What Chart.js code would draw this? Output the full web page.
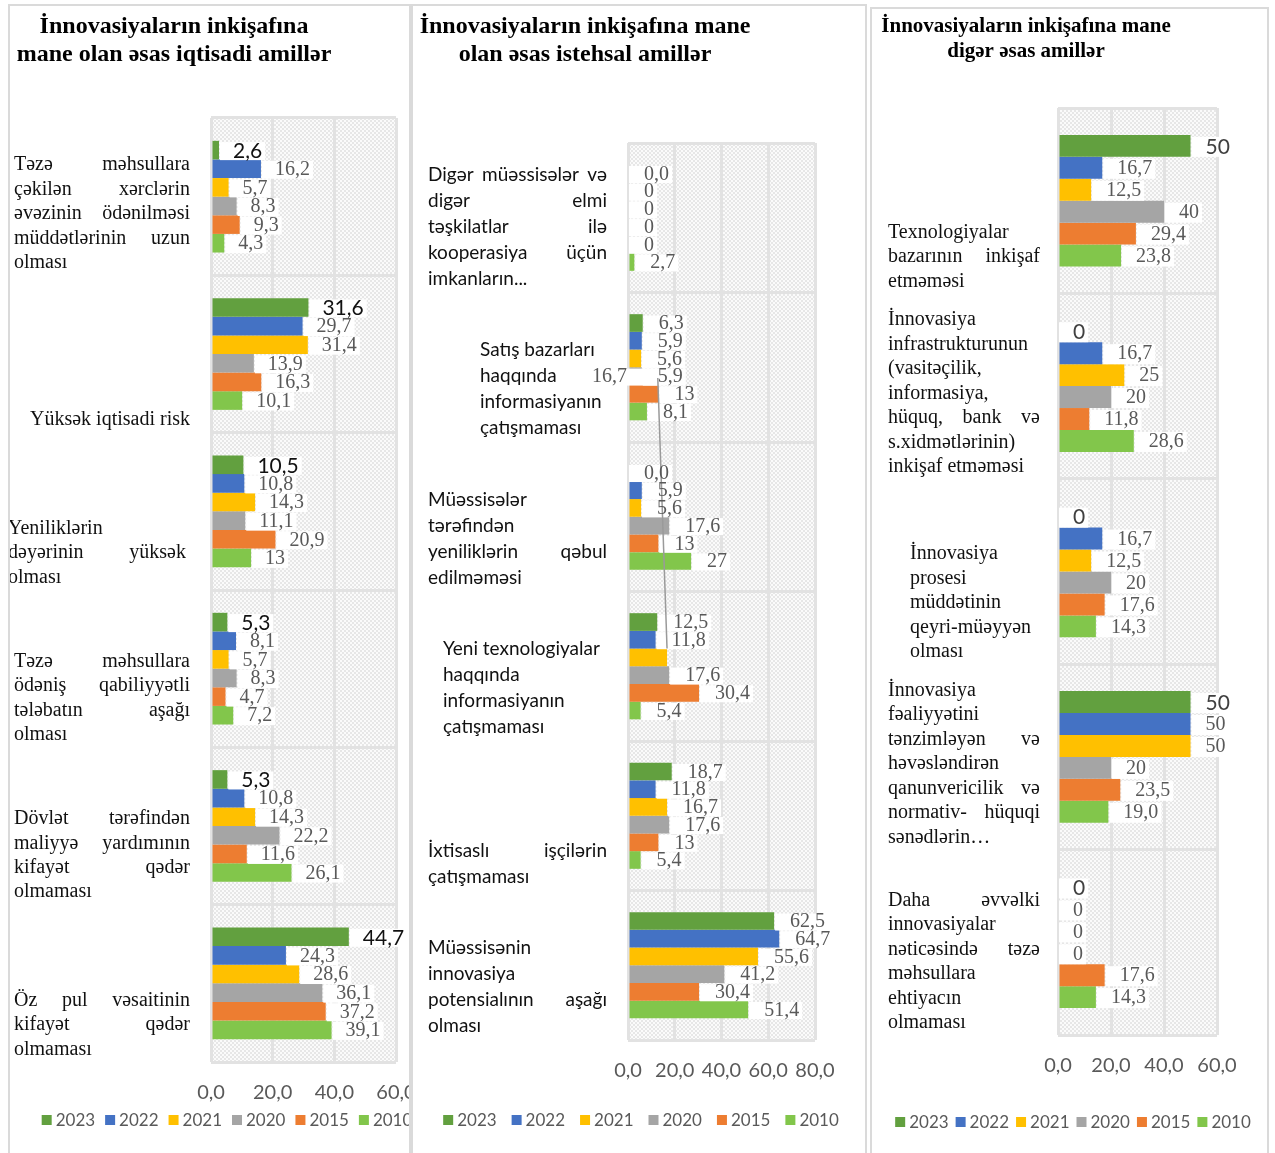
<!DOCTYPE html>
<html>
<head>
<meta charset="utf-8">
<script src="https://cdn.jsdelivr.net/npm/chart.js@4.4.1/dist/chart.umd.min.js"></script>
<style>
  html, body { margin: 0; padding: 0; background: #fff; }
  #wrap { position: relative; width: 1275px; height: 1153px; overflow: hidden; }
  .frame { position: absolute; border: 2px solid #dadada; box-sizing: border-box; }
  canvas { position: absolute; top: 0; }
</style>
</head>
<body>
<div id="wrap">
  <div class="frame" style="left:8px;top:4px;width:403px;height:1170px"></div>
  <div class="frame" style="left:411px;top:4px;width:456px;height:1170px"></div>
  <div class="frame" style="left:870px;top:7px;width:399px;height:1170px"></div>
  <canvas id="c1" style="left:10px" width="399" height="1153"></canvas>
  <canvas id="c2" style="left:413px" width="452" height="1153"></canvas>
  <canvas id="c3" style="left:872px" width="395" height="1153"></canvas>
</div>
<script>
const years = ['2023', '2022', '2021', '2020', '2015', '2010'];
const yearColors = ['#62A03F', '#4472C4', '#FFC000', '#A5A5A5', '#ED7D31', '#82C64B'];

// Panel 1 - iqtisadi amillər
const ecoCats = [
  ['Təzə məhsullara', 'çəkilən xərclərin', 'əvəzinin ödənilməsi', 'müddətlərinin uzun', 'olması'],
  ['Yüksək iqtisadi risk'],
  ['Yeniliklərin', 'dəyərinin yüksək', 'olması'],
  ['Təzə məhsullara', 'ödəniş qabiliyyətli', 'tələbatın aşağı', 'olması'],
  ['Dövlət tərəfindən', 'maliyyə yardımının', 'kifayət qədər', 'olmaması'],
  ['Öz pul vəsaitinin', 'kifayət qədər', 'olmaması']
];
const eco2023 = ['2,6', '31,6', '10,5', '5,3', '5,3', '44,7'];
const eco2022 = ['16,2', '29,7', '10,8', '8,1', '10,8', '24,3'];
const eco2021 = ['5,7', '31,4', '14,3', '5,7', '14,3', '28,6'];
const eco2020 = ['8,3', '13,9', '11,1', '8,3', '22,2', '36,1'];
const eco2015 = ['9,3', '16,3', '20,9', '4,7', '11,6', '37,2'];
const eco2010 = ['4,3', '10,1', '13', '7,2', '26,1', '39,1'];

// Panel 2 - istehsal amilləri
const prodCats = [
  ['Digər müəssisələr və', 'digər elmi', 'təşkilatlar ilə', 'kooperasiya üçün', 'imkanların...'],
  ['Satış bazarları', 'haqqında', 'informasiyanın', 'çatışmaması'],
  ['Müəssisələr', 'tərəfindən', 'yeniliklərin qəbul', 'edilməməsi'],
  ['Yeni texnologiyalar', 'haqqında', 'informasiyanın', 'çatışmaması'],
  ['İxtisaslı işçilərin', 'çatışmaması'],
  ['Müəssisənin', 'innovasiya', 'potensialının aşağı', 'olması']
];
const prod2023 = ['0,0', '6,3', '0,0', '12,5', '18,7', '62,5'];
const prod2022 = ['0', '5,9', '5,9', '11,8', '11,8', '64,7'];
const prod2021 = ['0', '5,6', '5,6', '16,7', '16,7', '55,6'];
const prod2020 = ['0', '5,9', '17,6', '17,6', '17,6', '41,2'];
const prod2015 = ['0', '13', '13', '30,4', '13', '30,4'];
const prod2010 = ['2,7', '8,1', '27', '5,4', '5,4', '51,4'];

// Panel 3 - digər amillər
const otherCats = [
  ['Texnologiyalar', 'bazarının inkişaf', 'etməməsi'],
  ['İnnovasiya', 'infrastrukturunun', '(vasitəçilik,', 'informasiya,', 'hüquq, bank və', 's.xidmətlərinin)', 'inkişaf etməməsi'],
  ['İnnovasiya', 'prosesi', 'müddətinin', 'qeyri-müəyyən', 'olması'],
  ['İnnovasiya', 'fəaliyyətini', 'tənzimləyən və', 'həvəsləndirən', 'qanunvericilik və', 'normativ- hüquqi', 'sənədlərin…'],
  ['Daha əvvəlki', 'innovasiyalar', 'nəticəsində təzə', 'məhsullara', 'ehtiyacın', 'olmaması']
];
const other2023 = ['50', '0', '0', '50', '0'];
const other2022 = ['16,7', '16,7', '16,7', '50', '0'];
const other2021 = ['12,5', '25', '12,5', '50', '0'];
const other2020 = ['40', '20', '20', '20', '0'];
const other2015 = ['29,4', '11,8', '17,6', '23,5', '17,6'];
const other2010 = ['23,8', '28,6', '14,3', '19,0', '14,3'];

const toNum = s => parseFloat(s.replace(',', '.'));

// layout of each panel (canvas-relative)
const specs = {
  c1: {
    title: ['İnnovasiyaların inkişafına', 'mane olan əsas iqtisadi amillər'],
    titleFont: 'bold 24px "Liberation Serif"', titleX: 164, titleY: [27, 55],
    cats: ecoCats, catFont: '20px "Liberation Serif"', pitch: 24.4, lastOff: 12.5,
    box: [[4, 180, 'justify'], [4, 180, 'right'], [-2, 176, 'justify'], [4, 180, 'justify'], [4, 180, 'justify'], [4, 180, 'justify']],
    area: { left: 201, right: 386, top: 118, bottom: 1062 }, xMax: 60,
    legendX: 217, legendY: 1120, legendGap: 10,
    offset: 14, labelFont: '20px "Liberation Serif"', firstFont: '21px Lato', firstColor: '#111', boxH: 18
  },
  c2: {
    title: ['İnnovasiyaların inkişafına mane', 'olan əsas istehsal amillər'],
    titleFont: 'bold 24px "Liberation Serif"', titleX: 172, titleY: [27, 55],
    cats: prodCats, catFont: '19px Lato', pitch: 26, lastOff: 14,
    box: [[15, 194, 'justify'], [67, 194, 'left'], [15, 194, 'justify'], [30, 194, 'left'], [15, 194, 'justify'], [15, 194, 'justify']],
    area: { left: 215, right: 402, top: 143, bottom: 1040 }, xMax: 80,
    legendX: 228, legendY: 1120, legendGap: 15,
    offset: 16, labelFont: '20px "Liberation Serif"', firstFont: null, boxH: 17,
    moved: { ds: 2, idx: 3, toDs: 3, toIdx: 1 }
  },
  c3: {
    title: ['İnnovasiyaların inkişafına mane', 'digər əsas amillər'],
    titleFont: 'bold 21px "Liberation Serif"', titleX: 154, titleY: [27, 52],
    cats: otherCats, catFont: '20px "Liberation Serif"', pitch: 24.5, lastOff: 12,
    box: [[16, 168, 'justify'], [16, 168, 'justify'], [38, 168, 'left'], [16, 168, 'justify'], [16, 168, 'justify']],
    area: { left: 186, right: 345, top: 108, bottom: 1035 }, xMax: 60,
    legendX: 201, legendY: 1122, legendGap: 7,
    offset: 15, labelFont: '20px "Liberation Serif"', firstFont: '21px Lato', firstColor: '#404040', boxH: 20
  }
};

function checker() {
  const c = document.createElement('canvas');
  c.width = 4; c.height = 4;
  const g = c.getContext('2d');
  g.fillStyle = '#fbfbfb'; g.fillRect(0, 0, 4, 4);
  g.fillStyle = '#e7e7e7'; g.fillRect(0, 0, 2, 2); g.fillRect(2, 2, 2, 2);
  return c;
}

function drawLine(ctx, text, left, right, y, mode, isLast) {
  const words = text.split(' ');
  if (mode === 'right') {
    ctx.textAlign = 'right'; ctx.fillText(text, right, y); return;
  }
  ctx.textAlign = 'left';
  if (mode !== 'justify' || isLast || words.length < 2) {
    ctx.fillText(text, left, y); return;
  }
  const widths = words.map(w => ctx.measureText(w).width);
  const gap = (right - left - widths.reduce((a, b) => a + b, 0)) / (words.length - 1);
  let x = left;
  words.forEach((w, i) => { ctx.fillText(w, x, y); x += widths[i] + gap; });
}

const decor = {
  id: 'decor',
  beforeDraw(chart) {
    const { ctx, chartArea: a } = chart;
    ctx.save();
    ctx.fillStyle = ctx.createPattern(checker(), 'repeat');
    ctx.fillRect(a.left, a.top, a.right - a.left, a.bottom - a.top);
    ctx.restore();
  },
  afterDatasetsDraw(chart) {
    const spec = specs[chart.canvas.id];
    const { ctx, chartArea: a } = chart;
    const items = [];
    chart.data.datasets.forEach((ds, di) => {
      const meta = chart.getDatasetMeta(di);
      meta.data.forEach((el, i) => {
        const first = di === 0 && spec.firstFont;
        const font = first ? spec.firstFont : spec.labelFont;
        ctx.font = font;
        const text = ds.shown[i];
        const w = ctx.measureText(text).width;
        const it = { text, font, color: first ? spec.firstColor : '#595959', y: el.y + 1 };
        const mv = spec.moved;
        if (mv && mv.ds === di && mv.idx === i) {
          // label dragged away from its bar, with a leader line back to it
          const anchor = chart.getDatasetMeta(mv.toDs).data[mv.toIdx];
          it.x = a.left - 1 - w;
          it.y = anchor.y + 1;
          it.bx0 = it.x - 2; it.bx1 = anchor.x + spec.offset;
          it.lead = [anchor.x + spec.offset, anchor.y + 2, el.x, el.y - el.height / 2];
        } else {
          it.x = el.x + spec.offset;
          it.bx0 = el.x + 1; it.bx1 = it.x + w + 3;
        }
        items.push(it);
      });
    });
    ctx.save();
    ctx.fillStyle = '#ffffff';
    items.forEach(it => ctx.fillRect(it.bx0, it.y - spec.boxH / 2, it.bx1 - it.bx0, spec.boxH));
    items.forEach(it => {
      if (!it.lead) return;
      ctx.strokeStyle = '#9a9a9a';
      ctx.lineWidth = 1.5;
      ctx.beginPath();
      ctx.moveTo(it.lead[0], it.lead[1]);
      ctx.lineTo(it.lead[2], it.lead[3]);
      ctx.stroke();
    });
    ctx.textBaseline = 'middle';
    ctx.textAlign = 'left';
    items.forEach(it => {
      ctx.font = it.font;
      ctx.fillStyle = it.color;
      ctx.fillText(it.text, it.x, it.y);
    });
    ctx.restore();
  },
  afterDraw(chart) {
    const spec = specs[chart.canvas.id];
    const { ctx, chartArea: a } = chart;
    ctx.save();
    // title
    ctx.font = spec.titleFont;
    ctx.fillStyle = '#000';
    ctx.textAlign = 'center';
    ctx.textBaseline = 'middle';
    spec.title.forEach((t, i) => ctx.fillText(t, spec.titleX, spec.titleY[i]));
    // category labels, bottom aligned to each band
    const band = (a.bottom - a.top) / spec.cats.length;
    ctx.font = spec.catFont;
    ctx.fillStyle = '#111';
    spec.cats.forEach((lines, ci) => {
      const bottom = a.top + band * (ci + 1);
      const [l, r, mode] = spec.box[ci];
      lines.forEach((line, k) => {
        const y = bottom - spec.lastOff - (lines.length - 1 - k) * spec.pitch;
        drawLine(ctx, line, l, r, y, mode, k === lines.length - 1);
      });
    });
    // legend
    ctx.font = '17px Lato';
    ctx.textAlign = 'left';
    const ds = chart.data.datasets;
    const ws = ds.map(d => 14 + ctx.measureText(d.label).width);
    const total = ws.reduce((s, w) => s + w, 0) + spec.legendGap * (ds.length - 1);
    let x = spec.legendX - total / 2;
    ds.forEach((d, i) => {
      ctx.fillStyle = d.backgroundColor;
      ctx.fillRect(x, spec.legendY - 5, 10, 10);
      ctx.fillStyle = '#595959';
      ctx.fillText(d.label, x + 14, spec.legendY + 1);
      x += ws[i] + spec.legendGap;
    });
    ctx.restore();
  }
};

function buildPanel(id, series) {
  const spec = specs[id];
  const canvas = document.getElementById(id);
  const W = canvas.width, H = canvas.height, axisH = 60;
  return new Chart(canvas, {
    type: 'bar',
    data: {
      labels: spec.cats.map(l => l.join(' ')),
      datasets: series.map((s, i) => ({
        label: years[i],
        data: s.map(toNum),
        shown: s,
        backgroundColor: yearColors[i],
        borderWidth: 0,
        categoryPercentage: 0.71,
        barPercentage: 1
      }))
    },
    options: {
      indexAxis: 'y',
      responsive: false,
      animation: false,
      layout: {
        padding: {
          left: spec.area.left,
          right: W - spec.area.right,
          top: spec.area.top,
          bottom: H - spec.area.bottom - axisH
        }
      },
      scales: {
        x: {
          min: 0,
          max: spec.xMax,
          ticks: {
            stepSize: 20,
            autoSkip: false,
            maxRotation: 0,
            padding: 19,
            color: '#595959',
            font: { family: 'Lato', size: 20 },
            callback: v => v.toFixed(1).replace('.', ',')
          },
          grid: { color: '#e2e2e2', lineWidth: 3, drawTicks: false },
          border: { display: false },
          afterFit: s => { s.height = axisH; s.paddingLeft = 0; s.paddingRight = 0; }
        },
        y: {
          ticks: { display: false },
          grid: { color: '#e2e2e2', lineWidth: 3, drawTicks: false },
          border: { display: false },
          afterFit: s => { s.width = 0; }
        }
      },
      plugins: {
        legend: { display: false },
        title: { display: false },
        tooltip: { enabled: false }
      }
    },
    plugins: [decor]
  });
}

buildPanel('c1', [eco2023, eco2022, eco2021, eco2020, eco2015, eco2010]);
buildPanel('c2', [prod2023, prod2022, prod2021, prod2020, prod2015, prod2010]);
buildPanel('c3', [other2023, other2022, other2021, other2020, other2015, other2010]);
</script>
</body>
</html>
